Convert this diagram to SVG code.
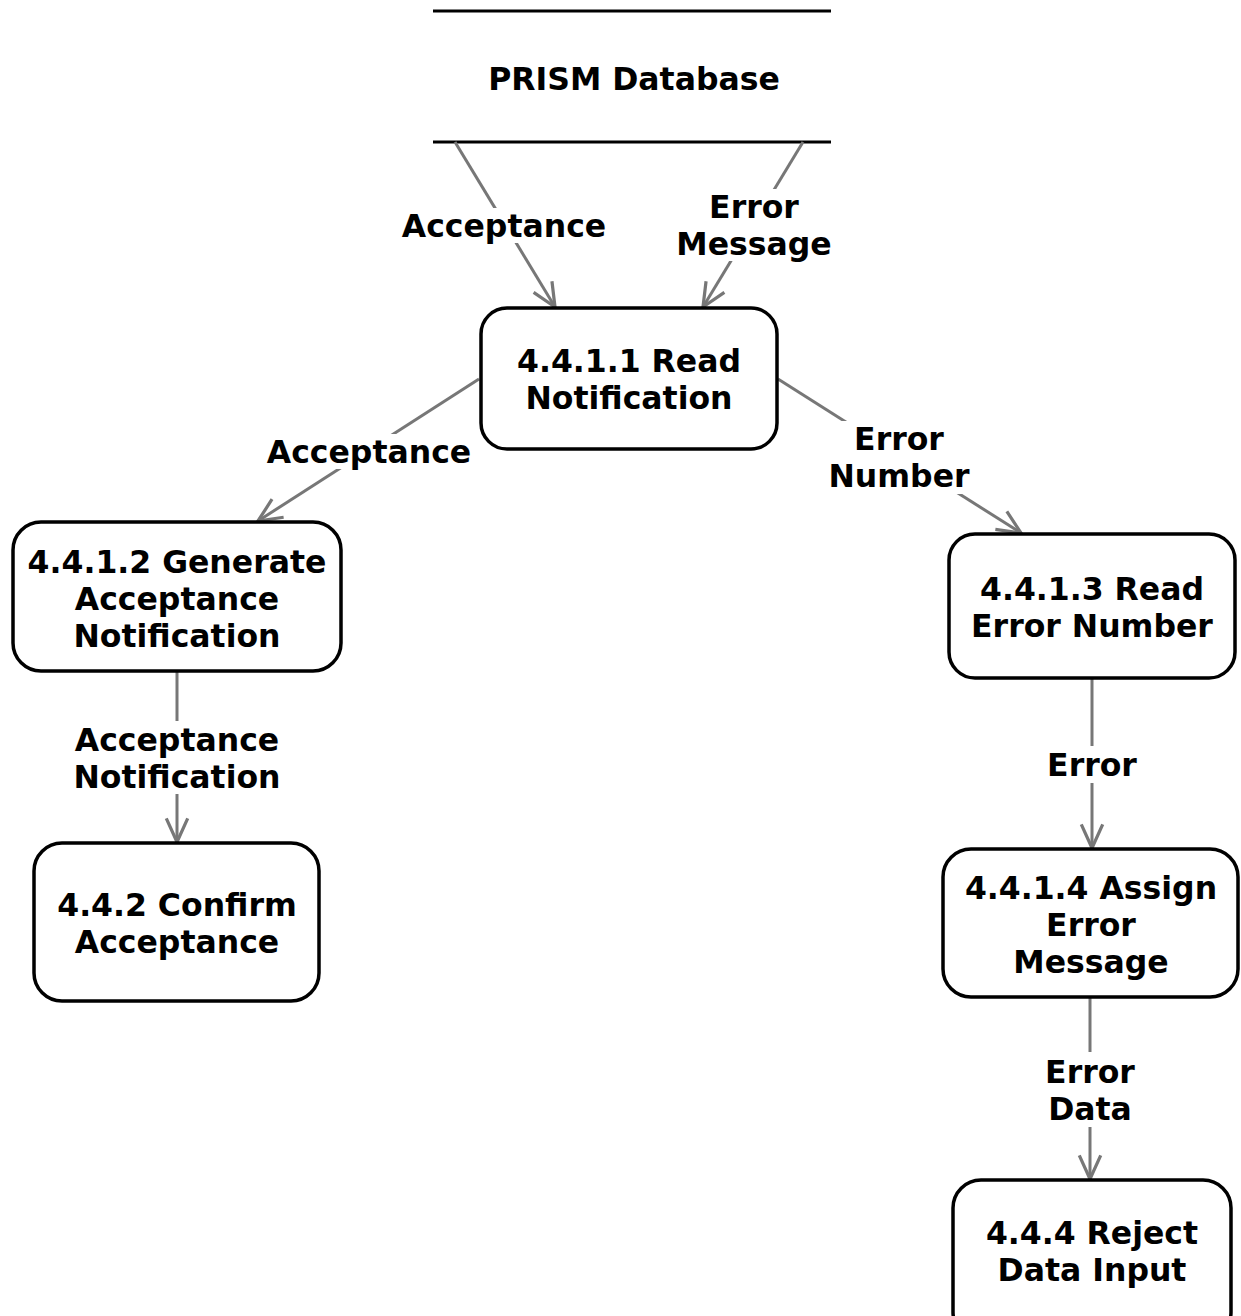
<svg xmlns="http://www.w3.org/2000/svg" width="1241" height="1316" viewBox="0 0 1241 1316">
  <defs>
    <style>
      text { font-family: "DejaVu Sans", "Verdana", sans-serif; font-weight: bold; font-size: 31.5px; fill: #000; text-anchor: middle; }
      .node rect { fill: #fff; stroke: #000; stroke-width: 3.5; }
      .store line { stroke: #000; stroke-width: 3; }
      .flow { stroke: #777; stroke-width: 3; fill: none; marker-end: url(#openArrow); }
      .lblbg { fill: #fff; stroke: none; }
    </style>
    <marker id="openArrow" markerUnits="userSpaceOnUse" markerWidth="30" markerHeight="30" viewBox="-24 -12 28 24" refX="0" refY="0" orient="auto">
      <path d="M-22,-10 L0,0 L-22,10" fill="none" stroke="#777" stroke-width="3"/>
    </marker>
  </defs>

  <rect x="0" y="0" width="1241" height="1316" fill="#fff"/>

  <!-- data store -->
  <g id="prism-db" class="store">
    <line x1="433" y1="11" x2="831" y2="11"/>
    <line x1="433" y1="142" x2="831" y2="142"/>
    <text x="634" y="90">PRISM Database</text>
  </g>

  <!-- connectors with labels -->
  <g id="connectors">
    <line class="flow" x1="455" y1="142" x2="555" y2="307"/>
    <rect class="lblbg" x="401" y="208" width="206" height="35"/>
    <text x="504" y="237">Acceptance</text>

    <line class="flow" x1="803" y1="142" x2="703" y2="307"/>
    <rect class="lblbg" x="676" y="189" width="156" height="72"/>
    <text x="754" y="218">Error</text>
    <text x="754" y="255">Message</text>

    <line class="flow" x1="479" y1="379" x2="258" y2="521"/>
    <rect class="lblbg" x="266" y="434" width="206" height="35"/>
    <text x="369" y="463">Acceptance</text>

    <line class="flow" x1="778" y1="379" x2="1021" y2="533"/>
    <rect class="lblbg" x="826" y="421" width="146" height="73"/>
    <text x="899" y="450">Error</text>
    <text x="899" y="487">Number</text>

    <line class="flow" x1="177" y1="672" x2="177" y2="842"/>
    <rect class="lblbg" x="70" y="721" width="214" height="73"/>
    <text x="177" y="751">Acceptance</text>
    <text x="177" y="788">Notification</text>

    <line class="flow" x1="1092" y1="679" x2="1092" y2="848"/>
    <rect class="lblbg" x="1044" y="746" width="96" height="37"/>
    <text x="1092" y="776">Error</text>

    <line class="flow" x1="1090" y1="998" x2="1090" y2="1179"/>
    <rect class="lblbg" x="1042" y="1052" width="96" height="75"/>
    <text x="1090" y="1083">Error</text>
    <text x="1090" y="1120">Data</text>
  </g>

  <!-- processes -->
  <g id="p4411" class="node">
    <rect x="481" y="308" width="296" height="141" rx="26"/>
    <text x="629" y="372">4.4.1.1 Read</text>
    <text x="629" y="409">Notification</text>
  </g>

  <g id="p4412" class="node">
    <rect x="13" y="522" width="328" height="149" rx="28"/>
    <text x="177" y="573">4.4.1.2 Generate</text>
    <text x="177" y="610">Acceptance</text>
    <text x="177" y="647">Notification</text>
  </g>

  <g id="p4413" class="node">
    <rect x="949" y="534" width="286" height="144" rx="26"/>
    <text x="1092" y="600">4.4.1.3 Read</text>
    <text x="1092" y="637">Error Number</text>
  </g>

  <g id="p442" class="node">
    <rect x="34" y="843" width="285" height="158" rx="28"/>
    <text x="177" y="916">4.4.2 Confirm</text>
    <text x="177" y="953">Acceptance</text>
  </g>

  <g id="p4414" class="node">
    <rect x="943" y="849" width="295" height="148" rx="28"/>
    <text x="1091" y="899">4.4.1.4 Assign</text>
    <text x="1091" y="936">Error</text>
    <text x="1091" y="973">Message</text>
  </g>

  <g id="p444" class="node">
    <rect x="953" y="1180" width="278" height="160" rx="28"/>
    <text x="1092" y="1244">4.4.4 Reject</text>
    <text x="1092" y="1281">Data Input</text>
  </g>
</svg>
